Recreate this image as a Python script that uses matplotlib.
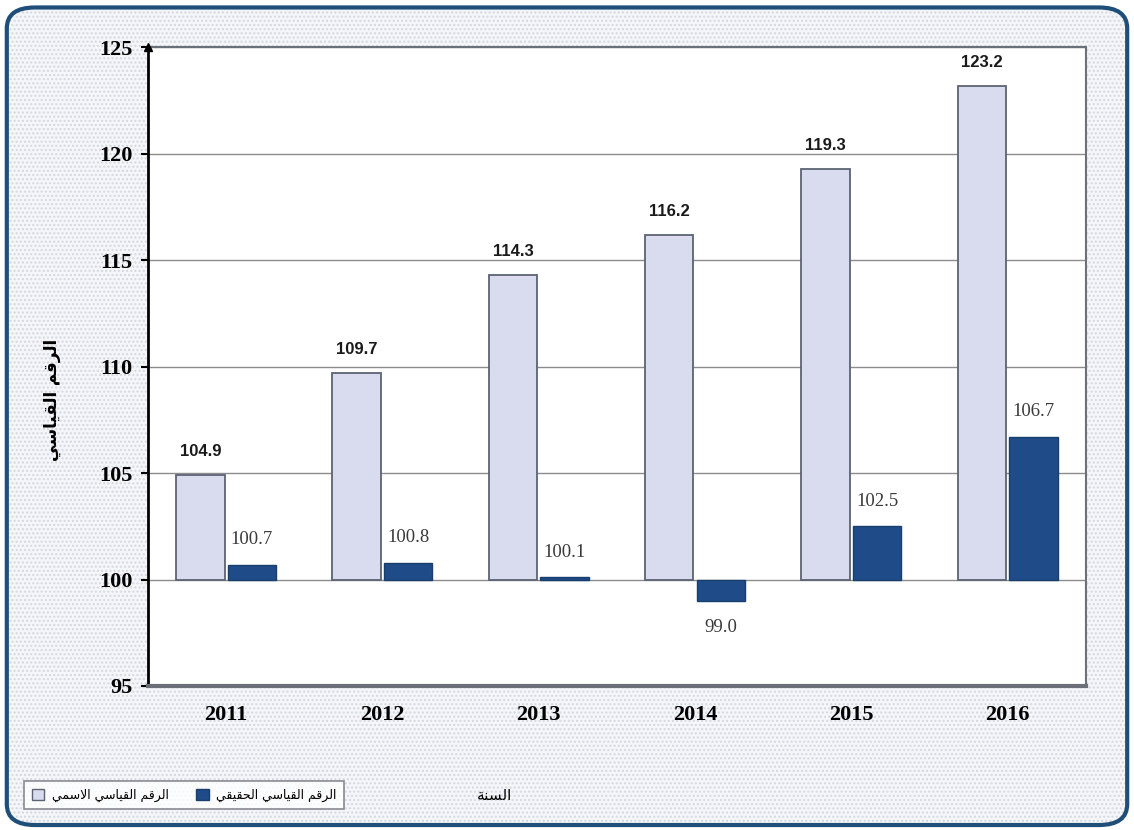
import matplotlib
matplotlib.use("Agg")
import matplotlib.pyplot as plt
from matplotlib.patches import FancyBboxPatch, Patch
import numpy as np

# Data
years = ['2011', '2012', '2013', '2014', '2015', '2016']
nominal = [104.9, 109.7, 114.3, 116.2, 119.3, 123.2]   # الرقم القياسي الاسمي
real = [100.7, 100.8, 100.1, 99.0, 102.5, 106.7]       # الرقم القياسي الحقيقي
base = 100
y_ticks = [95, 100, 105, 110, 115, 120, 125]

label_nominal = 'الرقم القياسي الاسمي'
label_real = 'الرقم القياسي الحقيقي'
label_x = 'السنة'
label_y = 'الرقم القياسي'

# matplotlib does not shape Arabic, so join the letters by hand
FORMS = {
    'ا': ('\uFE8D', '\uFE8E', None, None),
    'ل': ('\uFEDD', '\uFEDE', '\uFEDF', '\uFEE0'),
    'ر': ('\uFEAD', '\uFEAE', None, None),
    'ق': ('\uFED5', '\uFED6', '\uFED7', '\uFED8'),
    'م': ('\uFEE1', '\uFEE2', '\uFEE3', '\uFEE4'),
    'ي': ('\uFEF1', '\uFEF2', '\uFEF3', '\uFEF4'),
    'س': ('\uFEB1', '\uFEB2', '\uFEB3', '\uFEB4'),
    'ح': ('\uFEA1', '\uFEA2', '\uFEA3', '\uFEA4'),
    'ن': ('\uFEE5', '\uFEE6', '\uFEE7', '\uFEE8'),
    'ة': ('\uFE93', '\uFE94', None, None),
    'لا': ('\uFEFB', '\uFEFC', None, None),
}


def shape(text):
    units = []
    i = 0
    while i < len(text):
        if text[i] == 'ل' and i + 1 < len(text) and text[i + 1] == 'ا':
            units.append('لا')
            i += 2
        else:
            units.append(text[i])
            i += 1
    out = []
    for k, u in enumerate(units):
        if u not in FORMS:
            out.append(u)
            continue
        prev = units[k - 1] if k > 0 else None
        nxt = units[k + 1] if k + 1 < len(units) else None
        j_prev = prev in FORMS and FORMS[prev][2] is not None
        j_next = nxt in FORMS and FORMS[u][2] is not None
        iso, fin, ini, med = FORMS[u]
        if j_prev and j_next:
            out.append(med)
        elif j_prev:
            out.append(fin)
        elif j_next:
            out.append(ini)
        else:
            out.append(iso)
    return ''.join(out)[::-1]


fig = plt.figure(figsize=(11.34, 8.30), dpi=100)
fig.patch.set_facecolor('white')

# dotted background + rounded blue frame
bg = FancyBboxPatch((0.006, 0.006), 0.988, 0.985, boxstyle='round,pad=0,rounding_size=0.025',
                    transform=fig.transFigure, facecolor='#f4f6f9', edgecolor='#d3d8df',
                    hatch='....', linewidth=0, zorder=-3)
fig.patches.append(bg)
frame = FancyBboxPatch((0.006, 0.006), 0.988, 0.985, boxstyle='round,pad=0,rounding_size=0.025',
                       transform=fig.transFigure, facecolor='none', edgecolor='#1f4e79',
                       linewidth=3, zorder=-2)
fig.patches.append(frame)

ax = fig.add_axes([0.1305, 0.1735, 0.827, 0.7695])
ax.set_zorder(2)
ax.set_facecolor('white')

x = np.arange(len(years))
w = 0.31
off = 0.165
nom_h = [v - base for v in nominal]
real_h = [v - base for v in real]
ax.bar(x - off, nom_h, w, bottom=base, color='#d9dbee', edgecolor='#5c6373', linewidth=1.3, zorder=3)
ax.bar(x + off, real_h, w, bottom=base, color='#1f4b88', edgecolor='#183e6c', linewidth=1.0, zorder=3)

for xi, v in zip(x, nominal):
    ax.annotate(f'{v:.1f}', (xi - off, v), xytext=(0, 17), textcoords='offset points',
                ha='center', va='center', fontsize=12, fontweight='bold',
                family='Liberation Sans', color='#1a1a1a')
for xi, v in zip(x, real):
    dy = 18 if v >= base else -19
    ax.annotate(f'{v:.1f}', (xi + off, v), xytext=(0, dy), textcoords='offset points',
                ha='center', va='center', fontsize=13.5, family='Liberation Serif', color='#3a3a3a')

ax.set_xlim(-0.5, len(years) - 0.5)
ax.set_ylim(95, 125)
ax.set_yticks(y_ticks)
ax.set_yticklabels([str(t) for t in y_ticks], fontsize=16, fontweight='bold', family='Liberation Serif')
ax.set_xticks(x)
ax.set_xticklabels(years, fontsize=16, fontweight='bold', family='Liberation Serif')
ax.tick_params(axis='x', length=0, pad=14)
ax.tick_params(axis='y', length=5, width=1.5, direction='out', pad=6)
ax.yaxis.grid(True, color='#8c8c8c', linewidth=1.0, zorder=0)
ax.set_axisbelow(True)

for s in ['top', 'right', 'bottom']:
    ax.spines[s].set_color('#6b6f78')
    ax.spines[s].set_linewidth(1.5)
ax.spines['bottom'].set_linewidth(3)
ax.spines['left'].set_color('black')
ax.spines['left'].set_linewidth(2)
ax.plot(0, 1, marker='^', color='black', markersize=6, transform=ax.transAxes, clip_on=False, zorder=5)

fig.text(52 / 1134, 1 - 400 / 830, shape(label_y), rotation=90, ha='center', va='center',
         fontsize=12, fontweight='bold', family='DejaVu Sans')
fig.text(495 / 1134, 1 - 795 / 830, shape(label_x), ha='center', va='center',
         fontsize=11, family='DejaVu Sans')

handles = [Patch(facecolor='#d9dbee', edgecolor='#5c6373'),
           Patch(facecolor='#1f4b88', edgecolor='#183e6c')]
leg = fig.legend(handles, [shape(label_nominal), shape(label_real)], ncol=2,
                 loc='center left', bbox_to_anchor=(18 / 1134, 1 - 795 / 830),
                 prop={'family': 'DejaVu Sans', 'size': 9}, frameon=True, fancybox=False,
                 handlelength=1.0, handleheight=1.0, columnspacing=2.2, handletextpad=0.6,
                 borderpad=0.6)
leg.get_frame().set_edgecolor('#6b6f78')
leg.get_frame().set_linewidth(1.2)

fig.savefig('out.png', dpi=100)
